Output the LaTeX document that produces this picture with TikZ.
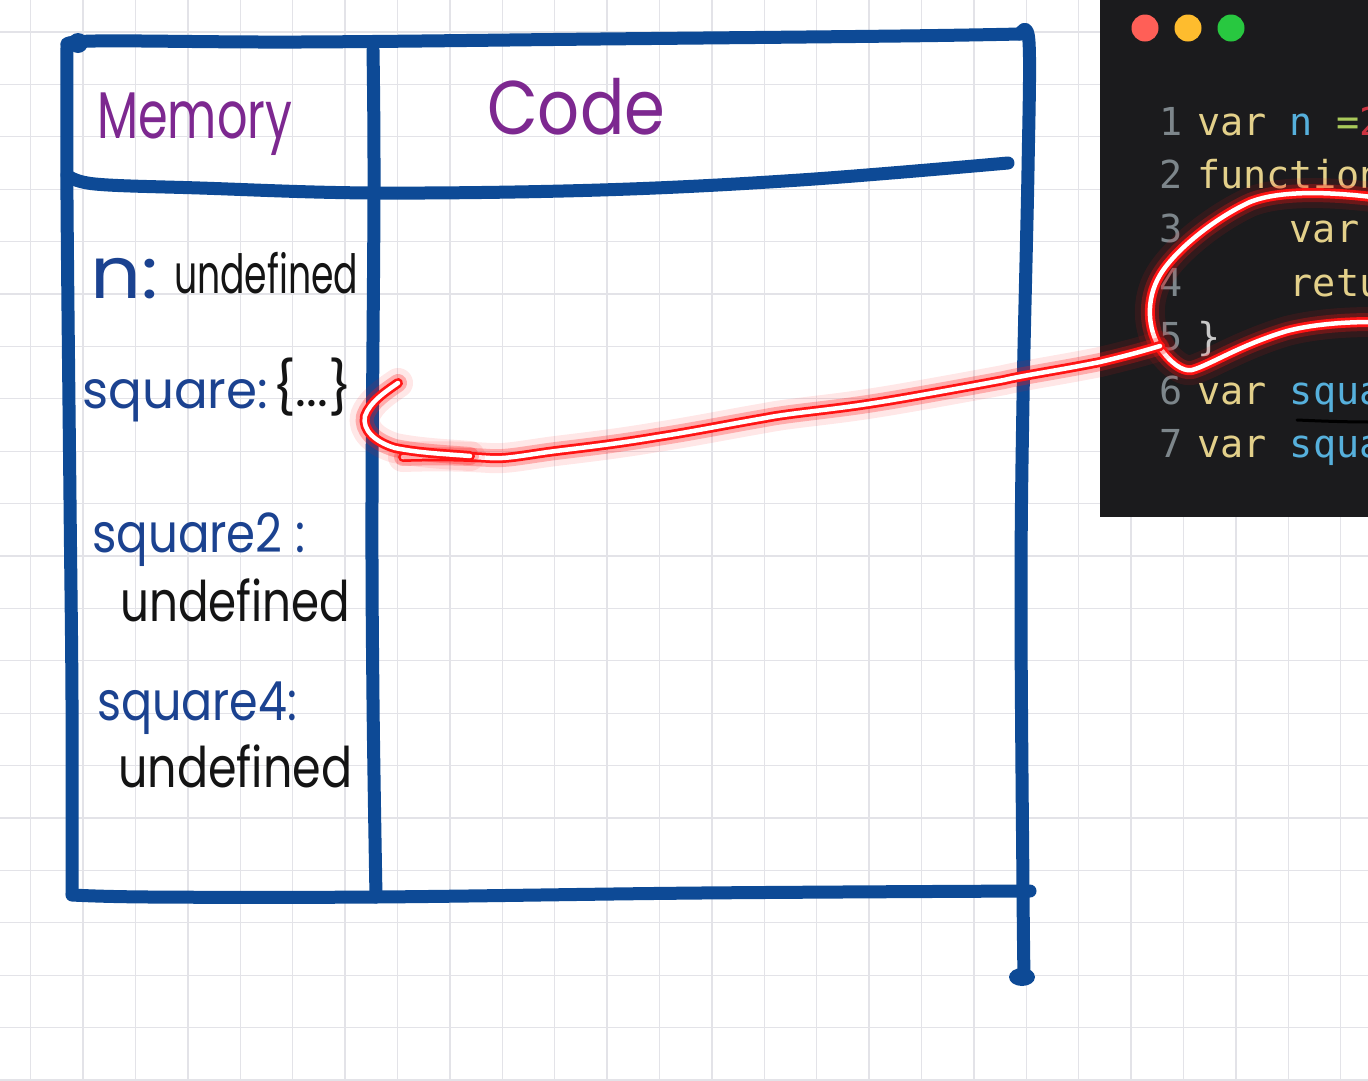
\documentclass[tikz,border=0pt]{standalone}
\usepackage{fontspec}
\usepackage{graphicx}
\setmainfont{Poppins}
\newfontfamily\codefont{DejaVu Sans Mono}
\definecolor{tblue}{HTML}{0D4A96}
\definecolor{hblue}{HTML}{1B4290}
\definecolor{hpurple}{HTML}{7D2890}
\definecolor{hblack}{HTML}{141414}
\definecolor{gridc}{HTML}{E3E3E8}
\definecolor{codebg}{HTML}{1B1B1D}
\definecolor{lnum}{HTML}{7D868B}
\definecolor{ckw}{HTML}{E3D08A}
\definecolor{cid}{HTML}{56B0DC}
\definecolor{cop}{HTML}{A9C95A}
\definecolor{cnum}{HTML}{CC3340}
\definecolor{cbr}{HTML}{C8C8C8}
\definecolor{glowred}{HTML}{FF1414}
\newcommand{\hwtext}[3]{\resizebox{#1pt}{\height}{\fontsize{#2}{#2}\selectfont #3}}
\newcommand{\glowpath}[1]{%
  \draw[glowA] #1; \draw[glowB] #1; \draw[glowC] #1; \draw[glowD] #1;}
\tikzset{
  gridline/.style={draw=gridc, line width=1.3pt},
  frame/.style={draw=tblue, line width=13pt, line cap=round, line join=round},
  hw/.style={inner sep=0pt, anchor=base west},
  codeline/.style={inner sep=0pt, anchor=base west, font=\codefont\fontsize{38.5}{46}\selectfont},
  codenum/.style={inner sep=0pt, anchor=base east, text=lnum, font=\codefont\fontsize{38.5}{46}\selectfont},
  glowA/.style={draw=glowred, opacity=0.10, line width=30pt, line cap=round, line join=round},
  glowB/.style={draw=glowred, opacity=0.28, line width=18pt, line cap=round, line join=round},
  glowC/.style={draw=glowred, line width=10pt, line cap=round, line join=round},
  glowD/.style={draw=white, line width=4.5pt, line cap=round, line join=round},
}
\begin{document}
\begin{tikzpicture}[x=1pt,y=-1pt]
\useasboundingbox (0,0) rectangle (1368,1080);
\clip (0,0) rectangle (1368,1080);
\fill[white] (0,0) rectangle (1368,1080);
% grid paper
\foreach \i in {0,...,25} {\draw[gridline] ({30.7+52.4*\i},0) -- ({30.7+52.4*\i},1080);}
\foreach \j in {0,...,20} {\draw[gridline] (0,{32+52.4*\j}) -- (1368,{32+52.4*\j});}

% code panel
\fill[codebg] (1100,0) rectangle (1368,517);
\fill[fill={rgb,255:red,255;green,95;blue,87}] (1145,28) circle (13.5);
\fill[fill={rgb,255:red,254;green,188;blue,46}] (1188,28) circle (13.5);
\fill[fill={rgb,255:red,40;green,200;blue,64}] (1231,28) circle (13.5);
\begin{scope}
\clip (1100,0) rectangle (1368,517);
\node[codenum] (n1) at (1183,135) {1};
\node[codenum] (n2) at (1183,188.8) {2};
\node[codenum] (n3) at (1183,242.6) {3};
\node[codenum] (n4) at (1183,296.4) {4};
\node[codenum] (n5) at (1183,350.2) {5};
\node[codenum] (n6) at (1183,404) {6};
\node[codenum] (n7) at (1183,457.8) {7};
\node[codeline] (c1) at (1197,135) {\textcolor{ckw}{var} \textcolor{cid}{n} \textcolor{cop}{=}\textcolor{cnum}{2}};
\node[codeline, text=ckw] (c2) at (1197,188.8) {function};
\node[codeline, text=ckw] (c3) at (1289.6,242.6) {var};
\node[codeline, text=ckw] (c4) at (1289.6,296.4) {retu};
\node[codeline, text=cbr] (c5) at (1197,350.2) {\}};
\node[codeline] (c6) at (1197,404) {\textcolor{ckw}{var} \textcolor{cid}{squa}};
\node[codeline] (c7) at (1197,457.8) {\textcolor{ckw}{var} \textcolor{cid}{squa}};
\draw[black, line width=3pt, line cap=round] (1297,420) .. controls (1320,421) and (1345,422) .. (1372,422);
\end{scope}

% table frame
\draw[frame] plot[smooth, tension=0.6] coordinates {(67,48) (67,200) (70,500) (72,700) (72,893)};
\draw[frame] plot[smooth, tension=0.6] coordinates {(68,46) (95,41) (300,42) (600,39) (900,36) (1020,34)};
\draw[frame] plot[smooth, tension=0.6] coordinates {(1020,34) (1029,42) (1028,170) (1023,400) (1021,600) (1023,890) (1024,976)};
\draw[frame] plot[smooth, tension=0.6] coordinates {(72,895) (150,897) (375,897) (700,893) (1030,891)};
\draw[frame] plot[smooth, tension=0.6] coordinates {(373,50) (374,190) (372,500) (373,700) (376,897)};
\draw[frame] plot[smooth, tension=0.6] coordinates {(67,175) (95,184) (200,188) (375,193) (600,190) (800,180) (1008,163)};
\fill[tblue] (78,43) circle (10);
\fill[tblue] (1022,977) ellipse (13 and 9);

% handwritten labels
\node[hw, text=hpurple] (mem) at (97,138) {\hwtext{195}{66}{Memory}};
\node[hw, text=hpurple] (code) at (487,134) {\hwtext{178}{76}{Code}};
\node[hw, text=hblue] (nlab) at (90,298) {\hwtext{68}{72}{n:}};
\node[hw, text=hblack] (und1) at (174,293) {\hwtext{184}{54}{undefined}};
\node[hw, text=hblue] (sq) at (82,408) {\hwtext{186}{52}{square:}};
\node[hw, text=hblack] (sqval) at (272,406) {\hwtext{80}{52}{\{...\}}};
\node[hw, text=hblue] (sq2) at (92,552) {\hwtext{213}{54}{square2 :}};
\node[hw, text=hblack] (und2) at (120,621) {\hwtext{230}{56}{undefined}};
\node[hw, text=hblue] (sq4) at (97,720) {\hwtext{200}{54}{square4:}};
\node[hw, text=hblack] (und3) at (118,787) {\hwtext{234}{56}{undefined}};

% red glowing loop and arrow
\coordinate (loopjoin) at (1160,346);
\coordinate (tip) at (365,416);
\coordinate (tail) at (403,457);
\glowpath{(1372,197) .. controls (1330,192) and (1280,190) .. (1250,202) .. controls (1215,218) and (1175,250) .. (1160,275) .. controls (1145,300) and (1148,330) .. (1160,348) .. controls (1170,362) and (1182,372) .. (1192,370) .. controls (1210,365) and (1240,345) .. (1287,331) .. controls (1310,325) and (1340,322) .. (1372,322)}
\glowpath{(loopjoin) .. controls (1140,352) and (1125,356) .. (1100,362) .. controls (1060,370) and (1020,376) .. (1004,380) .. controls (950,390) and (900,399) .. (874,403) .. controls (830,410) and (790,413) .. (765,418) .. controls (730,424) and (690,432) .. (657,437) .. controls (610,445) and (570,449) .. (548,452) .. controls (520,456) and (505,459) .. (490,458) .. controls (460,456) and (430,456) .. (tail)}
\glowpath{(398,383) .. controls (385,392) and (370,402) .. (tip) .. controls (362,430) and (375,442) .. (395,448) .. controls (420,453) and (445,454) .. (470,456)}
\end{tikzpicture}
\end{document}
